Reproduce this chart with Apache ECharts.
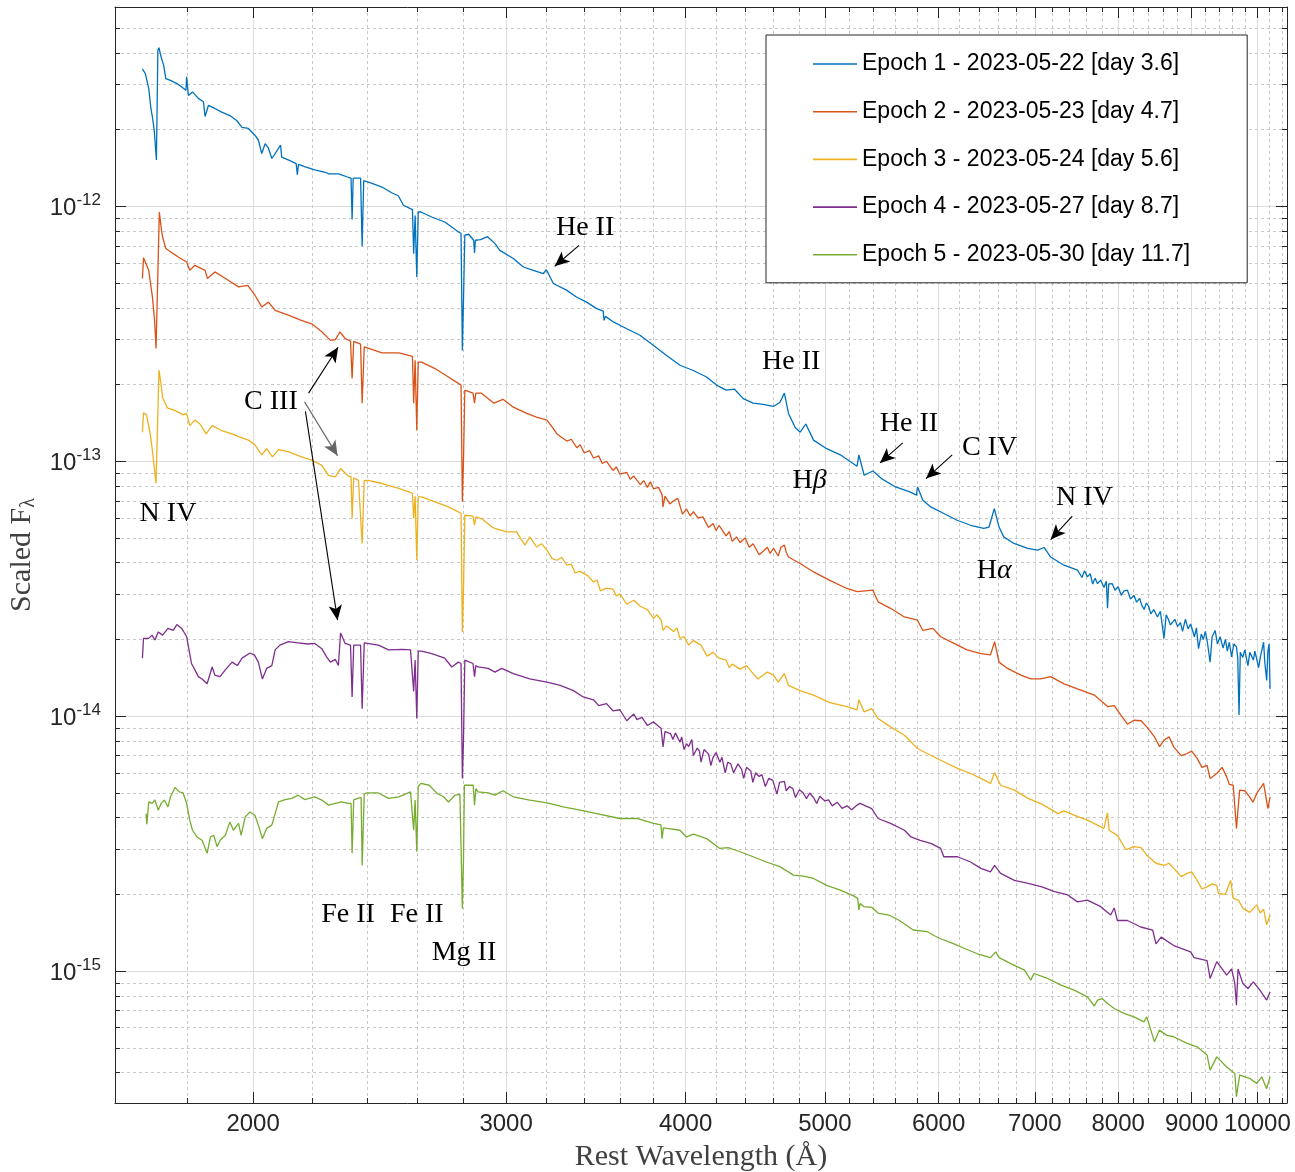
<!DOCTYPE html>
<html><head><meta charset="utf-8">
<script src="https://cdn.jsdelivr.net/npm/echarts@6/dist/echarts.min.js"></script>
<style>html,body{margin:0;padding:0;background:#fff}#c{width:1295px;height:1172px}</style>
</head><body><div id="c"></div>
<script>
const epochNames = [
  'Epoch 1 - 2023-05-22 [day 3.6]',
  'Epoch 2 - 2023-05-23 [day 4.7]',
  'Epoch 3 - 2023-05-24 [day 5.6]',
  'Epoch 4 - 2023-05-27 [day 8.7]',
  'Epoch 5 - 2023-05-30 [day 11.7]'
];
const epochColors = ['#0072BD', '#D95319', '#EDB120', '#7E2F8E', '#77AC30'];

const xMajorTicks = [2000, 3000, 4000, 5000, 6000, 7000, 8000, 9000, 10000];
const xMinorTicks = [1800, 2200, 2400, 2600, 2800, 3200, 3400, 3600, 3800, 4200, 4400, 4600, 4800,
  5200, 5400, 5600, 5800, 6200, 6400, 6600, 6800, 7200, 7400, 7600, 7800, 8200, 8400, 8600, 8800,
  9200, 9400, 9600, 9800, 10200, 10400];
const yMajorTicks = [1e-15, 1e-14, 1e-13, 1e-12];
const yMinorTicks = [4e-16, 5e-16, 6e-16, 7e-16, 8e-16, 9e-16,
  2e-15, 3e-15, 4e-15, 5e-15, 6e-15, 7e-15, 8e-15, 9e-15,
  2e-14, 3e-14, 4e-14, 5e-14, 6e-14, 7e-14, 8e-14, 9e-14,
  2e-13, 3e-13, 4e-13, 5e-13, 6e-13, 7e-13, 8e-13, 9e-13,
  2e-12, 3e-12, 4e-12, 5e-12];

// [rest wavelength (Å), scaled F_lambda]
const epoch1 = [
  [1675,3.46e-12],[1683,3.31e-12],[1692,2.90e-12],[1698,2.42e-12],[1702,2.24e-12],[1707,1.99e-12],
  [1713,1.52e-12],[1717,4.09e-12],[1720,4.19e-12],[1726,3.85e-12],[1733,3.57e-12],[1739,3.17e-12],
  [1752,3.12e-12],[1770,3.03e-12],[1784,2.94e-12],[1796,2.85e-12],[1798,3.22e-12],[1803,2.72e-12],
  [1815,2.81e-12],[1832,2.65e-12],[1847,2.57e-12],[1852,2.25e-12],[1862,2.49e-12],[1881,2.42e-12],
  [1902,2.34e-12],[1927,2.27e-12],[1948,2.17e-12],[1965,2.04e-12],[1985,2.02e-12],[2006,1.90e-12],
  [2017,1.82e-12],[2028,1.61e-12],[2039,1.76e-12],[2050,1.69e-12],[2061,1.54e-12],[2072,1.61e-12],
  [2090,1.74e-12],[2094,1.56e-12],[2116,1.52e-12],[2143,1.47e-12],[2147,1.33e-12],[2151,1.46e-12],
  [2172,1.43e-12],[2208,1.39e-12],[2245,1.36e-12],[2258,1.34e-12],[2293,1.34e-12],[2330,1.30e-12],
  [2340,1.29e-12],[2344,8.87e-13],[2348,1.29e-12],[2376,1.29e-12],[2382,6.97e-13],[2388,1.26e-12],
  [2420,1.23e-12],[2459,1.19e-12],[2497,1.13e-12],[2524,1.10e-12],[2545,1.01e-12],[2573,9.79e-13],
  [2582,9.70e-13],[2587,6.52e-13],[2593,9.20e-13],[2600,5.28e-13],[2606,9.50e-13],[2617,9.50e-13],
  [2663,9.08e-13],[2719,8.68e-13],[2750,8.29e-13],[2779,7.93e-13],[2791,7.84e-13],[2797,2.72e-13],
  [2802,4.28e-13],[2808,7.70e-13],[2826,7.77e-13],[2848,7.36e-13],[2852,6.56e-13],[2856,7.36e-13],
  [2880,7.40e-13],[2912,7.60e-13],[2947,7.14e-13],[2970,6.72e-13],[3035,6.24e-13],[3084,5.78e-13],
  [3134,5.61e-13],[3185,5.45e-13],[3200,5.64e-13],[3236,4.98e-13],[3305,4.69e-13],[3358,4.41e-13],
  [3413,4.21e-13],[3469,3.97e-13],[3505,3.88e-13],[3510,3.57e-13],[3518,3.70e-13],[3563,3.52e-13],
  [3640,3.31e-13],[3718,3.12e-13],[3798,2.85e-13],[3880,2.60e-13],[3964,2.38e-13],[4050,2.27e-13],
  [4137,2.14e-13],[4203,1.99e-13],[4269,1.90e-13],[4325,1.92e-13],[4387,1.76e-13],[4457,1.69e-13],
  [4530,1.67e-13],[4603,1.64e-13],[4652,1.70e-13],[4686,1.85e-13],[4717,1.54e-13],[4767,1.36e-13],
  [4806,1.30e-13],[4850,1.40e-13],[4910,1.21e-13],[5015,1.12e-13],[5125,1.06e-13],[5265,9.56e-14],
  [5280,1.06e-13],[5325,8.81e-14],[5400,9.16e-14],[5475,8.55e-14],[5600,7.93e-14],[5730,7.58e-14],
  [5790,7.36e-14],[5801,7.93e-14],[5850,7.03e-14],[5925,6.62e-14],[6050,6.24e-14],[6180,5.87e-14],
  [6315,5.61e-14],[6450,5.45e-14],[6505,5.52e-14],[6560,6.52e-14],[6610,5.52e-14],[6660,5.05e-14],
  [6770,4.76e-14],[6920,4.55e-14],[7030,4.48e-14],[7105,4.59e-14],[7180,4.21e-14],[7335,3.91e-14],
  [7495,3.74e-14],[7550,3.50e-14],[7580,3.72e-14],[7615,3.52e-14],[7650,3.62e-14],[7680,3.30e-14],
  [7710,3.48e-14],[7740,3.31e-14],[7780,3.42e-14],[7820,3.20e-14],[7850,3.38e-14],[7865,2.65e-14],
  [7880,3.30e-14],[7925,3.31e-14],[7960,3.12e-14],[8000,3.22e-14],[8040,2.98e-14],[8075,3.10e-14],
  [8120,3.12e-14],[8160,2.88e-14],[8205,2.98e-14],[8240,2.80e-14],[8280,2.90e-14],[8310,2.72e-14],
  [8340,2.62e-14],[8370,2.78e-14],[8400,2.70e-14],[8430,2.52e-14],[8470,2.62e-14],[8520,2.45e-14],
  [8560,2.58e-14],[8610,2.02e-14],[8640,2.50e-14],[8670,2.40e-14],[8700,2.28e-14],[8760,2.40e-14],
  [8800,2.25e-14],[8840,2.33e-14],[8870,2.15e-14],[8910,2.40e-14],[8950,2.20e-14],[8985,2.30e-14],
  [9040,2.05e-14],[9070,2.22e-14],[9100,1.84e-14],[9140,2.10e-14],[9170,2.00e-14],[9200,2.15e-14],
  [9230,1.95e-14],[9270,1.63e-14],[9300,2.05e-14],[9345,2.17e-14],[9380,1.92e-14],[9420,2.05e-14],
  [9465,1.85e-14],[9500,2.00e-14],[9530,1.80e-14],[9560,1.95e-14],[9595,1.71e-14],[9630,1.92e-14],
  [9670,1.87e-14],[9690,1.70e-14],[9710,1.01e-14],[9730,1.78e-14],[9770,1.70e-14],[9800,1.82e-14],
  [9850,1.58e-14],[9880,1.78e-14],[9935,1.66e-14],[9960,1.80e-14],[10020,1.55e-14],[10050,1.72e-14],
  [10100,1.95e-14],[10120,1.62e-14],[10150,1.38e-14],[10170,1.80e-14],[10190,1.92e-14],[10205,1.28e-14]
];
const epoch2 = [
  [1675,5.21e-13],[1678,6.29e-13],[1692,5.61e-13],[1702,4.41e-13],[1708,3.57e-13],[1712,2.77e-13],
  [1721,9.50e-13],[1726,8.29e-13],[1730,7.58e-13],[1739,6.83e-13],[1760,6.52e-13],[1774,6.33e-13],
  [1798,6.05e-13],[1807,5.61e-13],[1822,5.87e-13],[1852,5.61e-13],[1859,5.21e-13],[1881,5.53e-13],
  [1922,5.13e-13],[1954,4.83e-13],[1983,4.90e-13],[2006,4.48e-13],[2028,4.03e-13],[2050,4.21e-13],
  [2072,3.91e-13],[2116,3.74e-13],[2161,3.57e-13],[2197,3.46e-13],[2233,3.22e-13],[2264,2.98e-13],
  [2282,3.00e-13],[2299,3.22e-13],[2318,3.03e-13],[2338,2.96e-13],[2344,2.11e-13],[2350,2.95e-13],
  [2376,2.88e-13],[2382,1.69e-13],[2390,2.81e-13],[2459,2.66e-13],[2526,2.66e-13],[2567,2.60e-13],
  [2582,2.58e-13],[2587,1.69e-13],[2593,2.49e-13],[2600,1.32e-13],[2606,2.45e-13],[2620,2.45e-13],
  [2677,2.31e-13],[2735,2.14e-13],[2779,2.02e-13],[2791,1.99e-13],[2797,6.93e-14],[2802,1.01e-13],
  [2808,1.90e-13],[2845,1.85e-13],[2852,1.69e-13],[2858,1.85e-13],[2884,1.85e-13],[2942,1.69e-13],
  [2985,1.75e-13],[3035,1.63e-13],[3101,1.54e-13],[3150,1.49e-13],[3203,1.45e-13],[3230,1.36e-13],
  [3255,1.28e-13],[3280,1.24e-13],[3307,1.20e-13],[3330,1.22e-13],[3360,1.13e-13],[3378,1.16e-13],
  [3400,1.08e-13],[3430,1.10e-13],[3451,1.03e-13],[3480,1.05e-13],[3500,9.80e-14],[3524,1.00e-13],
  [3560,9.20e-14],[3580,9.50e-14],[3600,8.90e-14],[3640,9.05e-14],[3660,8.50e-14],[3681,8.75e-14],
  [3720,8.10e-14],[3740,8.40e-14],[3762,7.90e-14],[3780,8.30e-14],[3800,7.80e-14],[3830,7.90e-14],
  [3852,7.40e-14],[3858,6.62e-14],[3870,7.30e-14],[3900,6.80e-14],[3924,7.00e-14],[3950,7.15e-14],
  [3980,6.20e-14],[4006,6.50e-14],[4030,6.10e-14],[4050,6.35e-14],[4080,6.00e-14],[4112,6.05e-14],
  [4150,5.50e-14],[4180,5.70e-14],[4200,5.35e-14],[4220,5.60e-14],[4268,5.10e-14],[4290,5.30e-14],
  [4310,4.85e-14],[4340,5.05e-14],[4365,4.80e-14],[4400,5.00e-14],[4430,4.60e-14],[4457,4.75e-14],
  [4500,4.30e-14],[4532,4.45e-14],[4560,4.60e-14],[4580,4.35e-14],[4605,4.55e-14],[4640,4.25e-14],
  [4660,4.60e-14],[4686,4.69e-14],[4700,4.40e-14],[4717,4.21e-14],[4806,3.97e-14],[4910,3.68e-14],
  [5040,3.41e-14],[5180,3.17e-14],[5265,3.08e-14],[5400,3.12e-14],[5445,2.81e-14],[5555,2.65e-14],
  [5680,2.45e-14],[5800,2.38e-14],[5850,2.17e-14],[5945,2.21e-14],[6020,2.05e-14],[6150,1.93e-14],
  [6280,1.82e-14],[6420,1.76e-14],[6520,1.74e-14],[6563,1.96e-14],[6610,1.63e-14],[6700,1.54e-14],
  [6845,1.45e-14],[6955,1.40e-14],[7065,1.40e-14],[7180,1.43e-14],[7335,1.34e-14],[7495,1.28e-14],
  [7700,1.21e-14],[7870,1.09e-14],[7950,1.10e-14],[8035,1.01e-14],[8120,9.30e-15],[8205,9.64e-15],
  [8300,9.60e-15],[8375,9.08e-15],[8480,8.29e-15],[8550,7.60e-15],[8610,8.05e-15],[8680,8.30e-15],
  [8745,7.58e-15],[8850,7.00e-15],[8935,7.14e-15],[9000,7.30e-15],[9080,6.83e-15],[9150,6.30e-15],
  [9225,6.42e-15],[9270,5.70e-15],[9370,5.96e-15],[9450,6.30e-15],[9520,5.78e-15],[9560,5.40e-15],
  [9620,5.36e-15],[9670,3.63e-15],[9720,5.13e-15],[9800,5.10e-15],[9875,4.83e-15],[9930,4.60e-15],
  [9990,4.98e-15],[10100,5.45e-15],[10170,4.34e-15],[10205,4.83e-15]
];
const epoch3 = [
  [1675,1.30e-13],[1678,1.55e-13],[1686,1.52e-13],[1696,1.28e-13],[1702,1.10e-13],[1706,9.79e-14],
  [1712,8.18e-14],[1720,2.28e-13],[1726,1.99e-13],[1730,1.78e-13],[1743,1.62e-13],[1766,1.58e-13],
  [1788,1.52e-13],[1798,1.54e-13],[1807,1.38e-13],[1822,1.45e-13],[1837,1.40e-13],[1855,1.28e-13],
  [1873,1.38e-13],[1902,1.32e-13],[1934,1.28e-13],[1954,1.25e-13],[1985,1.21e-13],[2006,1.16e-13],
  [2028,1.06e-13],[2044,1.12e-13],[2063,1.04e-13],[2083,1.11e-13],[2116,1.09e-13],[2161,1.04e-13],
  [2197,1.01e-13],[2233,9.64e-14],[2257,8.81e-14],[2282,8.68e-14],[2301,9.36e-14],[2330,8.74e-14],
  [2340,8.70e-14],[2344,5.96e-14],[2350,8.60e-14],[2368,8.42e-14],[2382,4.76e-14],[2390,8.40e-14],
  [2405,8.42e-14],[2459,8.18e-14],[2526,7.82e-14],[2567,7.58e-14],[2582,7.49e-14],[2587,5.96e-14],
  [2593,7.29e-14],[2600,4.09e-14],[2606,7.25e-14],[2620,7.25e-14],[2677,6.93e-14],[2735,6.62e-14],
  [2779,6.33e-14],[2791,6.25e-14],[2797,2.14e-14],[2802,3.12e-14],[2808,6.14e-14],[2845,6.09e-14],
  [2852,5.61e-14],[2858,6.05e-14],[2884,5.96e-14],[2932,5.53e-14],[2947,5.45e-14],[3003,5.28e-14],
  [3051,5.28e-14],[3092,4.69e-14],[3116,5.05e-14],[3150,4.61e-14],[3175,4.75e-14],[3203,4.48e-14],
  [3230,4.15e-14],[3255,4.09e-14],[3280,4.20e-14],[3307,3.91e-14],[3330,3.95e-14],[3350,3.65e-14],
  [3378,3.70e-14],[3420,3.55e-14],[3451,3.36e-14],[3470,3.42e-14],[3490,3.10e-14],[3524,3.18e-14],
  [3560,3.15e-14],[3580,2.96e-14],[3600,3.02e-14],[3640,2.75e-14],[3681,2.85e-14],[3720,2.70e-14],
  [3762,2.62e-14],[3800,2.42e-14],[3820,2.50e-14],[3846,2.38e-14],[3858,2.17e-14],[3880,2.26e-14],
  [3924,2.15e-14],[3945,2.22e-14],[3964,2.02e-14],[3990,2.05e-14],[4020,1.90e-14],[4050,1.98e-14],
  [4100,1.90e-14],[4140,1.72e-14],[4180,1.78e-14],[4220,1.69e-14],[4268,1.66e-14],[4290,1.55e-14],
  [4310,1.60e-14],[4365,1.53e-14],[4410,1.58e-14],[4457,1.47e-14],[4490,1.40e-14],[4532,1.45e-14],
  [4560,1.49e-14],[4605,1.45e-14],[4640,1.36e-14],[4686,1.47e-14],[4717,1.32e-14],[4806,1.26e-14],
  [4910,1.21e-14],[5040,1.13e-14],[5180,1.09e-14],[5265,1.06e-14],[5280,1.16e-14],[5325,1.04e-14],
  [5390,1.07e-14],[5445,9.79e-15],[5555,9.08e-15],[5680,8.42e-15],[5800,7.47e-15],[5890,7.14e-15],
  [6020,6.72e-15],[6185,6.24e-15],[6315,5.96e-15],[6420,5.70e-15],[6520,5.45e-15],[6563,6.00e-15],
  [6627,5.36e-15],[6775,5.13e-15],[6925,4.76e-15],[7080,4.52e-15],[7265,4.15e-15],[7335,4.25e-15],
  [7455,4.09e-15],[7615,3.91e-15],[7820,3.63e-15],[7865,4.18e-15],[7885,3.57e-15],[7990,3.41e-15],
  [8100,3.00e-15],[8205,3.08e-15],[8300,3.05e-15],[8375,2.85e-15],[8500,2.65e-15],[8610,2.60e-15],
  [8680,2.65e-15],[8745,2.53e-15],[8850,2.35e-15],[8935,2.42e-15],[9000,2.45e-15],[9080,2.27e-15],
  [9150,2.10e-15],[9225,2.14e-15],[9300,2.20e-15],[9370,2.17e-15],[9395,2.02e-15],[9500,2.00e-15],
  [9580,2.27e-15],[9620,1.93e-15],[9700,1.90e-15],[9775,1.76e-15],[9880,1.70e-15],[9990,1.82e-15],
  [10045,1.69e-15],[10100,1.75e-15],[10150,1.52e-15],[10205,1.66e-15]
];
const epoch4 = [
  [1675,1.69e-14],[1678,2.02e-14],[1692,2.02e-14],[1701,2.08e-14],[1709,1.99e-14],[1718,2.14e-14],
  [1730,2.08e-14],[1745,2.21e-14],[1760,2.17e-14],[1770,2.29e-14],[1784,2.21e-14],[1798,2.05e-14],
  [1812,1.61e-14],[1822,1.52e-14],[1832,1.43e-14],[1843,1.40e-14],[1858,1.34e-14],[1873,1.56e-14],
  [1881,1.45e-14],[1897,1.43e-14],[1913,1.52e-14],[1934,1.63e-14],[1950,1.58e-14],[1965,1.69e-14],
  [1990,1.77e-14],[2004,1.74e-14],[2017,1.63e-14],[2030,1.40e-14],[2044,1.54e-14],[2061,1.58e-14],
  [2072,1.82e-14],[2088,1.90e-14],[2116,1.96e-14],[2149,1.94e-14],[2183,1.92e-14],[2208,1.93e-14],
  [2233,1.84e-14],[2250,1.71e-14],[2264,1.63e-14],[2282,1.67e-14],[2293,1.58e-14],[2301,2.12e-14],
  [2318,1.93e-14],[2338,1.90e-14],[2344,1.19e-14],[2350,1.90e-14],[2376,1.90e-14],[2382,1.07e-14],
  [2390,1.94e-14],[2445,1.90e-14],[2485,1.82e-14],[2540,1.83e-14],[2574,1.82e-14],[2582,1.80e-14],
  [2587,1.25e-14],[2593,1.66e-14],[2600,9.79e-15],[2606,1.80e-14],[2620,1.80e-14],[2663,1.76e-14],
  [2719,1.69e-14],[2750,1.56e-14],[2779,1.63e-14],[2791,1.61e-14],[2797,5.70e-15],[2802,8.05e-15],
  [2808,1.66e-14],[2845,1.61e-14],[2852,1.43e-14],[2858,1.58e-14],[2868,1.56e-14],[2915,1.54e-14],
  [2947,1.49e-14],[2979,1.54e-14],[3035,1.47e-14],[3116,1.40e-14],[3203,1.36e-14],[3272,1.32e-14],
  [3342,1.26e-14],[3395,1.19e-14],[3451,1.16e-14],[3480,1.10e-14],[3524,1.12e-14],[3560,1.05e-14],
  [3600,1.06e-14],[3640,9.60e-15],[3681,1.02e-14],[3700,9.70e-15],[3730,9.90e-15],[3762,9.20e-15],
  [3800,9.50e-15],[3846,8.95e-15],[3858,7.58e-15],[3870,8.70e-15],[3904,8.55e-15],[3920,8.10e-15],
  [3935,8.60e-15],[3964,7.90e-15],[3975,8.30e-15],[3990,7.40e-15],[4006,7.80e-15],[4020,7.60e-15],
  [4040,8.10e-15],[4050,7.00e-15],[4075,7.50e-15],[4090,7.30e-15],[4100,6.60e-15],[4120,7.40e-15],
  [4150,7.10e-15],[4165,6.40e-15],[4180,6.90e-15],[4200,7.20e-15],[4226,6.60e-15],[4240,6.90e-15],
  [4262,6.00e-15],[4280,6.60e-15],[4300,6.50e-15],[4320,6.00e-15],[4350,6.50e-15],[4375,6.20e-15],
  [4390,5.70e-15],[4410,6.30e-15],[4440,6.10e-15],[4455,5.50e-15],[4475,6.00e-15],[4500,5.80e-15],
  [4520,5.90e-15],[4545,5.30e-15],[4570,5.70e-15],[4600,5.60e-15],[4630,4.95e-15],[4650,5.50e-15],
  [4686,5.55e-15],[4700,5.10e-15],[4725,5.30e-15],[4750,5.20e-15],[4770,4.80e-15],[4800,5.15e-15],
  [4830,5.00e-15],[4855,4.75e-15],[4880,5.00e-15],[4910,4.80e-15],[4935,4.55e-15],[4960,4.85e-15],
  [5000,4.65e-15],[5030,4.70e-15],[5060,4.45e-15],[5100,4.60e-15],[5140,4.35e-15],[5180,4.45e-15],
  [5220,4.30e-15],[5265,4.48e-15],[5290,4.55e-15],[5390,4.34e-15],[5445,3.97e-15],[5555,3.80e-15],
  [5680,3.57e-15],[5740,3.36e-15],[5825,3.26e-15],[5925,3.17e-15],[6020,3.03e-15],[6050,2.81e-15],
  [6185,2.81e-15],[6315,2.68e-15],[6420,2.53e-15],[6520,2.45e-15],[6563,2.60e-15],[6627,2.42e-15],
  [6775,2.27e-15],[6925,2.21e-15],[7080,2.14e-15],[7225,2.05e-15],[7380,1.99e-15],[7495,1.87e-15],
  [7615,1.90e-15],[7780,1.79e-15],[7905,1.66e-15],[7950,1.77e-15],[7990,1.58e-15],[8120,1.58e-15],
  [8295,1.49e-15],[8455,1.45e-15],[8500,1.28e-15],[8570,1.36e-15],[8745,1.26e-15],[8985,1.19e-15],
  [9035,1.13e-15],[9225,1.10e-15],[9270,9.36e-16],[9370,1.09e-15],[9520,9.64e-16],[9595,1.02e-15],
  [9645,8.95e-16],[9670,7.36e-16],[9695,1.02e-15],[9770,8.95e-16],[9850,8.55e-16],[9935,9.08e-16],
  [10040,8.42e-16],[10150,7.70e-16],[10205,8.29e-16]
];
const epoch5 = [
  [1685,4.15e-15],[1687,3.77e-15],[1692,4.61e-15],[1701,4.55e-15],[1709,4.69e-15],[1718,4.28e-15],
  [1726,4.55e-15],[1735,4.69e-15],[1745,4.41e-15],[1752,4.83e-15],[1765,5.25e-15],[1777,5.05e-15],
  [1788,5.00e-15],[1798,4.55e-15],[1807,3.91e-15],[1815,3.57e-15],[1828,3.36e-15],[1843,3.26e-15],
  [1858,2.90e-15],[1868,3.36e-15],[1878,3.41e-15],[1888,3.08e-15],[1897,3.26e-15],[1913,3.41e-15],
  [1927,3.85e-15],[1938,3.57e-15],[1954,3.80e-15],[1962,3.41e-15],[1975,4.03e-15],[1990,4.21e-15],
  [2006,4.09e-15],[2019,3.68e-15],[2030,3.31e-15],[2044,3.63e-15],[2061,3.74e-15],[2072,4.15e-15],
  [2083,4.61e-15],[2106,4.71e-15],[2128,4.76e-15],[2150,4.90e-15],[2172,4.71e-15],[2208,4.83e-15],
  [2233,4.69e-15],[2257,4.48e-15],[2282,4.55e-15],[2305,4.61e-15],[2330,4.55e-15],[2340,4.55e-15],
  [2344,2.90e-15],[2350,4.70e-15],[2365,4.76e-15],[2378,4.80e-15],[2382,2.60e-15],[2390,4.95e-15],
  [2400,5.00e-15],[2445,5.00e-15],[2485,4.76e-15],[2526,4.83e-15],[2574,5.05e-15],[2582,5.00e-15],
  [2587,3.57e-15],[2593,4.69e-15],[2600,2.94e-15],[2606,5.30e-15],[2617,5.45e-15],[2652,5.36e-15],
  [2686,4.98e-15],[2714,4.83e-15],[2735,4.61e-15],[2764,4.90e-15],[2786,4.94e-15],[2797,1.76e-15],
  [2802,2.72e-15],[2806,5.36e-15],[2846,5.36e-15],[2852,4.48e-15],[2858,5.20e-15],[2868,5.05e-15],
  [2915,5.00e-15],[2947,4.90e-15],[2985,5.10e-15],[3035,4.83e-15],[3116,4.69e-15],[3203,4.57e-15],
  [3288,4.41e-15],[3378,4.28e-15],[3469,4.15e-15],[3600,3.97e-15],[3700,3.97e-15],[3800,3.80e-15],
  [3845,3.75e-15],[3852,3.31e-15],[3860,3.65e-15],[3883,3.63e-15],[3964,3.57e-15],[4006,3.36e-15],
  [4050,3.45e-15],[4137,3.31e-15],[4226,3.03e-15],[4282,3.05e-15],[4365,2.94e-15],[4457,2.81e-15],
  [4552,2.68e-15],[4652,2.57e-15],[4755,2.38e-15],[4830,2.36e-15],[4910,2.31e-15],[5015,2.17e-15],
  [5125,2.08e-15],[5240,1.97e-15],[5270,1.93e-15],[5280,1.74e-15],[5290,1.84e-15],[5325,1.79e-15],
  [5390,1.78e-15],[5445,1.69e-15],[5540,1.66e-15],[5635,1.58e-15],[5760,1.45e-15],[5890,1.43e-15],
  [5955,1.38e-15],[6020,1.34e-15],[6150,1.28e-15],[6250,1.23e-15],[6385,1.17e-15],[6520,1.13e-15],
  [6575,1.19e-15],[6610,1.13e-15],[6735,1.07e-15],[6885,1.01e-15],[6955,9.22e-16],[6990,9.79e-16],
  [7145,9.36e-16],[7300,8.81e-16],[7455,8.42e-16],[7615,7.93e-16],[7700,7.30e-16],[7740,7.70e-16],
  [7800,7.80e-16],[7865,7.47e-16],[7950,7.14e-16],[8075,6.83e-16],[8205,6.62e-16],[8340,6.33e-16],
  [8375,6.62e-16],[8480,5.28e-16],[8545,5.87e-16],[8650,5.60e-16],[8745,5.53e-16],[8935,5.21e-16],
  [9080,5.05e-16],[9225,4.69e-16],[9270,4.09e-16],[9370,4.61e-16],[9520,4.21e-16],[9645,3.97e-16],
  [9670,3.22e-16],[9720,3.91e-16],[9875,3.80e-16],[9990,3.63e-16],[10070,3.85e-16],[10150,3.46e-16],
  [10205,3.85e-16]
];

// line identifications: label text and its anchor [wavelength, flux]
const lineLabels = [
  { text: 'He II', at: [3405, 8.27e-13] },
  { text: 'He II', at: [4738, 2.45e-13] },
  { text: 'H{g|β}', at: [4880, 8.42e-14] },
  { text: 'He II', at: [5721, 1.41e-13] },
  { text: 'C IV', at: [6510, 1.13e-13] },
  { text: 'H{g|α}', at: [6560, 3.74e-14] },
  { text: 'N IV', at: [7580, 7.22e-14] },
  { text: 'N IV', at: [1745, 6.25e-14] },
  { text: 'C III', at: [2058, 1.71e-13] },
  { text: 'Fe II', at: [2329, 1.67e-15] },
  { text: 'Fe II', at: [2600, 1.67e-15] },
  { text: 'Mg II', at: [2804, 1.18e-15] }
];
// arrows: from [wavelength, flux] to [wavelength, flux]
const arrowFrom = [[3372, 7.03e-13], [5665, 1.18e-13], [6132, 1.06e-13], [7433, 6.09e-14], [2186, 1.85e-13], [2172, 1.71e-13], [2175, 1.57e-13]];
const arrowTo   = [[3243, 5.82e-13], [5462, 9.85e-14], [5880, 8.55e-14], [7180, 4.93e-14], [2292, 2.80e-13], [2290, 1.05e-13], [2290, 2.38e-14]];
const arrowShade = ['#000', '#000', '#000', '#000', '#000', '#666', '#000'];

const X_MIN = 1603, X_MAX = 10486, Y_MIN = 3.04e-16, Y_MAX = 6.05e-12;
const AX = '#262626';
const SANS = 'Liberation Sans, Arial, Helvetica, sans-serif';
const SERIF = 'Liberation Serif, Times New Roman, serif';

function xAx(position, ticks, major, labels) {
  return {
    type: 'log', logBase: 10, min: X_MIN, max: X_MAX, position: position,
    name: labels ? 'Rest Wavelength (Å)' : '',
    nameLocation: 'middle', nameGap: 39,
    nameTextStyle: { fontFamily: SERIF, fontSize: 30, color: '#404040' },
    axisLine: { show: major, onZero: false, lineStyle: { color: AX, width: 1 } },
    axisTick: { show: true, inside: true, length: major ? 11 : 5, customValues: ticks, lineStyle: { color: AX, width: 1 } },
    axisLabel: { show: labels, customValues: ticks, margin: 9, fontFamily: SANS, fontSize: 24, color: AX,
      formatter: function (v) { return String(Math.round(v)); } },
    splitLine: { show: position === 'bottom', lineStyle: major ? { color: '#dcdcdc', width: 1, type: 'solid' } : { color: '#c8c8c8', width: 1, type: [3, 3] } },
    minorTick: { show: false }, minorSplitLine: { show: false }
  };
}
function yAx(position, ticks, major, labels) {
  return {
    type: 'log', logBase: 10, min: Y_MIN, max: Y_MAX, position: position,
    name: labels ? 'Scaled F{s|λ}' : '',
    nameLocation: 'middle', nameGap: 70,
    nameTextStyle: { fontFamily: SERIF, fontSize: 30, color: '#404040',
      rich: { s: { fontFamily: SERIF, fontSize: 20, color: '#404040', verticalAlign: 'bottom', padding: [14, 0, 0, 0] } } },
    axisLine: { show: major, onZero: false, lineStyle: { color: AX, width: 1 } },
    axisTick: { show: true, inside: true, length: major ? 11 : 5, customValues: ticks, lineStyle: { color: AX, width: 1 } },
    axisLabel: { show: labels, customValues: ticks, margin: 14,
      formatter: function (v) { return '{b|10}{s|' + Math.round(Math.log10(v)) + '}'; },
      rich: {
        b: { fontFamily: SANS, fontSize: 24, color: AX, lineHeight: 28, verticalAlign: 'bottom' },
        s: { fontFamily: SANS, fontSize: 17, color: AX, lineHeight: 17, verticalAlign: 'top' }
      } },
    splitLine: { show: position === 'left', lineStyle: major ? { color: '#dcdcdc', width: 1, type: 'solid' } : { color: '#c8c8c8', width: 1, type: [3, 3] } },
    minorTick: { show: false }, minorSplitLine: { show: false }
  };
}

const epochs = [epoch1, epoch2, epoch3, epoch4, epoch5];
const series = epochs.map(function (d, i) {
  return {
    type: 'line', name: epochNames[i], data: d, xAxisIndex: 0, yAxisIndex: 0,
    symbol: 'none', showSymbol: false, silent: true, animation: false, z: 3,
    lineStyle: { color: epochColors[i], width: 1.3 }, itemStyle: { color: epochColors[i] }
  };
});
series.push({
  type: 'line', name: 'notes', data: [], xAxisIndex: 0, yAxisIndex: 0, silent: true, animation: false, z: 5,
  markPoint: {
    silent: true, animation: false, symbol: 'circle', symbolSize: 1,
    itemStyle: { color: 'rgba(0,0,0,0)' },
    label: { show: true, position: 'inside', color: '#000', fontFamily: SERIF, fontSize: 28,
      formatter: function (p) { return p.name; },
      rich: { g: { fontFamily: SERIF, fontSize: 28, fontStyle: 'italic', color: '#000' } } },
    data: lineLabels.map(function (l) { return { name: l.text, coord: l.at }; })
  },
  markLine: {
    silent: true, animation: false, symbol: ['none', 'arrow'], symbolSize: [10, 15],
    label: { show: false }, emphasis: { disabled: true },
    itemStyle: { color: '#000' },
    lineStyle: { color: '#000', width: 1.1, type: 'solid' },
    data: arrowFrom.map(function (f, i) {
      return [{ coord: f, lineStyle: { color: arrowShade[i] } }, { coord: arrowTo[i] }];
    })
  }
});

const chart = echarts.init(document.getElementById('c'), null, { renderer: 'canvas' });
chart.setOption({
  animation: false,
  backgroundColor: '#fff',
  grid: { left: 115, right: 8, top: 7, bottom: 69, containLabel: false, outerBoundsMode: 'none' },
  legend: {
    data: epochNames, orient: 'vertical', left: 766, top: 35, icon: 'rect',
    padding: [17, 57, 16, 47], itemGap: 23.7, itemWidth: 44, itemHeight: 1.6,
    backgroundColor: '#fff', borderColor: AX, borderWidth: 1,
    textStyle: { fontFamily: SANS, fontSize: 23, color: '#000', lineHeight: 24 },
    selectedMode: false
  },
  xAxis: [
    xAx('bottom', xMajorTicks, true, true),
    xAx('bottom', xMinorTicks, false, false),
    xAx('top', xMajorTicks, true, false),
    xAx('top', xMinorTicks, false, false)
  ],
  yAxis: [
    yAx('left', yMajorTicks, true, true),
    yAx('left', yMinorTicks, false, false),
    yAx('right', yMajorTicks, true, false),
    yAx('right', yMinorTicks, false, false)
  ],
  series: series
});
</script>
</body></html>
